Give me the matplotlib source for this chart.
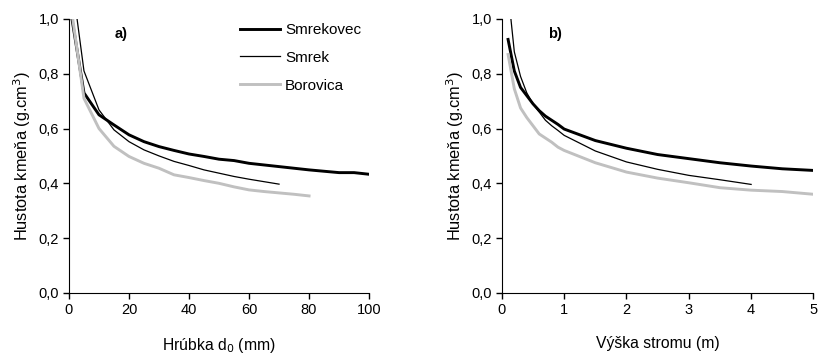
import matplotlib
matplotlib.use('Agg')
import matplotlib.pyplot as plt
from matplotlib.ticker import FuncFormatter

plt.rcParams['font.family'] = ['Liberation Sans', 'DejaVu Sans']

# hustota kmena podla hrubky (a)
hrubka = [1, 5, 10, 15, 20, 25, 30, 35, 40, 45, 50, 55, 60, 65, 70, 75, 80, 85, 90, 95, 100]
smrekovec_a = [1.00, 0.73, 0.65, 0.613, 0.577, 0.552, 0.534, 0.52, 0.507, 0.498, 0.488,
               0.483, 0.473, 0.467, 0.461, 0.455, 0.449, 0.444, 0.439, 0.439, 0.433]
smrek_a = [1.14, 0.81, 0.668, 0.595, 0.552, 0.522, 0.50, 0.48, 0.465, 0.449, 0.437,
           0.425, 0.415, 0.406, 0.397]
borovica_a = [1.02, 0.71, 0.60, 0.535, 0.498, 0.473, 0.455, 0.431, 0.421, 0.41, 0.40,
              0.387, 0.376, 0.37, 0.365, 0.36, 0.354]

# hustota kmena podla vysky stromu (b)
vyska = [0.1, 0.2, 0.3, 0.4, 0.5, 0.6, 0.7, 0.8, 0.9, 1.0, 1.5, 2.0, 2.5, 3.0, 3.5, 4.0, 4.5, 5.0]
smrekovec_b = [0.925, 0.81, 0.75, 0.72, 0.69, 0.665, 0.645, 0.63, 0.615, 0.598, 0.556,
               0.528, 0.505, 0.49, 0.475, 0.463, 0.453, 0.447]
smrek_b = [1.10, 0.88, 0.79, 0.73, 0.69, 0.66, 0.63, 0.61, 0.593, 0.575, 0.518,
           0.478, 0.451, 0.429, 0.413, 0.396]
borovica_b = [0.87, 0.745, 0.675, 0.64, 0.61, 0.58, 0.565, 0.55, 0.532, 0.52, 0.475,
              0.441, 0.419, 0.402, 0.384, 0.375, 0.37, 0.36]

styly = {
    'Smrekovec': dict(color='black', lw=2.1),
    'Smrek': dict(color='black', lw=0.9),
    'Borovica': dict(color='#c0c0c0', lw=2.1),
}

ciarka = FuncFormatter(lambda v, pos: ('%.1f' % v).replace('.', ','))

fig = plt.figure(figsize=(8.2, 3.63), dpi=100)
axA = fig.add_axes([0.0841, 0.193, 0.366, 0.755])
axB = fig.add_axes([0.612, 0.193, 0.380, 0.755])

axA.plot(hrubka[:len(smrekovec_a)], smrekovec_a, label='Smrekovec', **styly['Smrekovec'])
axA.plot(hrubka[:len(smrek_a)], smrek_a, label='Smrek', **styly['Smrek'])
axA.plot(hrubka[:len(borovica_a)], borovica_a, label='Borovica', **styly['Borovica'])

axB.plot(vyska[:len(smrekovec_b)], smrekovec_b, **styly['Smrekovec'])
axB.plot(vyska[:len(smrek_b)], smrek_b, **styly['Smrek'])
axB.plot(vyska[:len(borovica_b)], borovica_b, **styly['Borovica'])

for ax in (axA, axB):
    ax.set_ylim(0, 1.0)
    ax.set_yticks([0, 0.2, 0.4, 0.6, 0.8, 1.0])
    ax.yaxis.set_major_formatter(ciarka)
    ax.spines['top'].set_visible(False)
    ax.spines['right'].set_visible(False)
    ax.tick_params(direction='out', length=4, width=1, labelsize=10.5, pad=3)
    ax.set_ylabel('Hustota kmeňa (g.cm$^{3}$)', fontsize=11.8, labelpad=4)

axA.set_xlim(0, 100)
axA.set_xticks([0, 20, 40, 60, 80, 100])
axA.set_xlabel('Hrúbka d$_0$ (mm)', fontsize=11.3, labelpad=14)
axA.text(15.3, 0.945, 'a)', fontsize=10.5, fontweight='bold', va='center')

axB.set_xlim(0, 5)
axB.set_xticks([0, 1, 2, 3, 4, 5])
axB.set_xlabel('Výška stromu (m)', fontsize=11.3, labelpad=14)
axB.text(0.74, 0.945, 'b)', fontsize=10.5, fontweight='bold', va='center')

axA.legend(loc='upper right', bbox_to_anchor=(1.02, 1.035), frameon=False,
           fontsize=11, handlelength=2.6, handletextpad=0.35, labelspacing=0.9)

fig.savefig('out.png', dpi=100)
